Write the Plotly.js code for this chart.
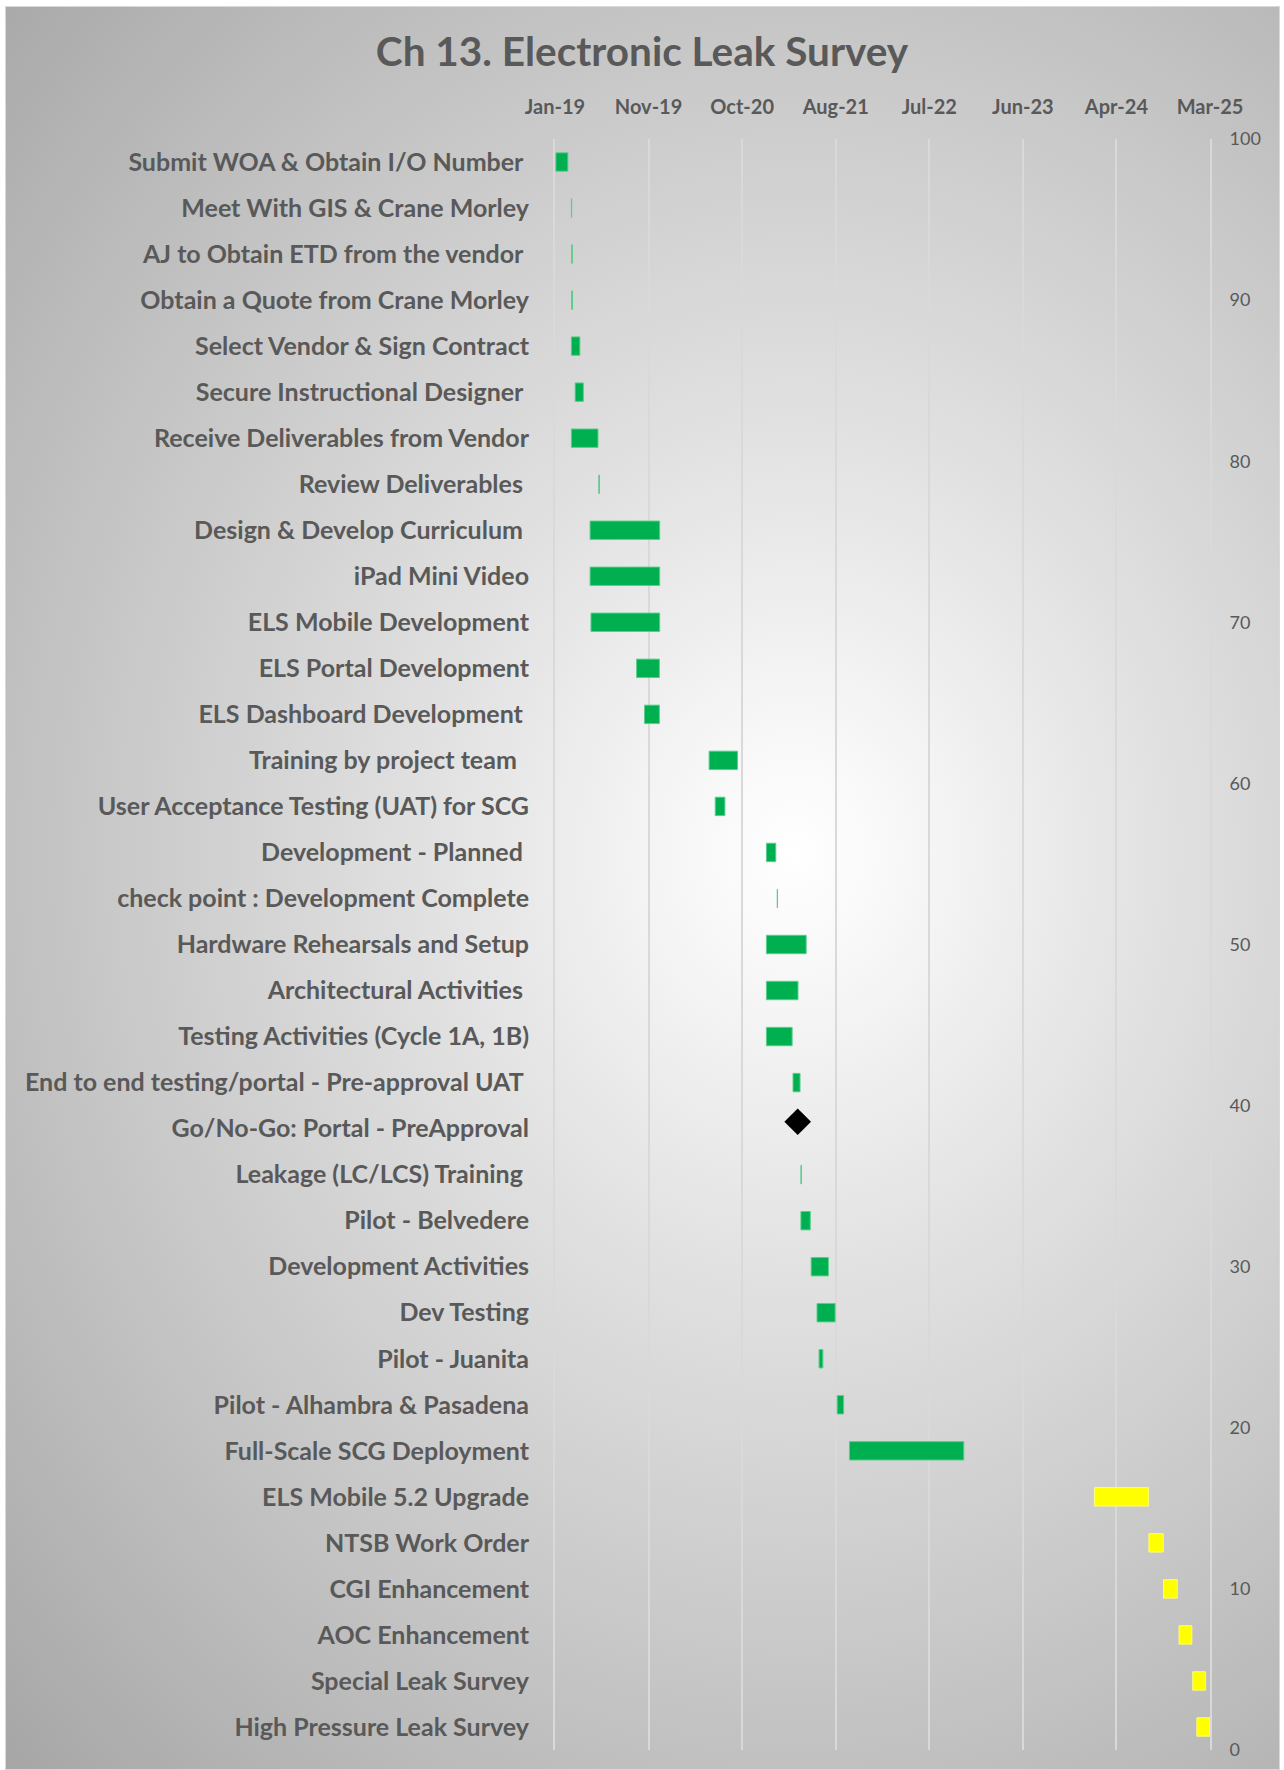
<!DOCTYPE html>
<html>
<head>
<meta charset="utf-8">
<script src="https://cdn.plot.ly/plotly-3.0.1.min.js"></script>
<style>
html,body{margin:0;padding:0;background:#ffffff;}
#wrap{position:relative;width:1284px;height:1770px;overflow:hidden;}
#bg{position:absolute;left:5px;top:6px;width:1275px;height:1764px;box-sizing:border-box;border:1px solid #d9d9d9;
background:radial-gradient(ellipse farthest-corner at 62% 48%, #ffffff 0%, #f7f7f7 10%, #e2e2e2 32%, #c8c8c8 62%, #a6a6a6 100%);}
#chart{position:absolute;left:0;top:0;width:1284px;height:1770px;}
</style>
</head>
<body>
<div id="wrap"><div id="bg"></div><div id="chart"></div></div>
<script>
const tasks = [
  'Submit WOA & Obtain I/O Number\u00a0',
  'Meet With GIS & Crane Morley',
  'AJ to Obtain ETD from the vendor\u00a0',
  'Obtain a Quote from Crane Morley',
  'Select Vendor & Sign Contract',
  'Secure Instructional Designer\u00a0',
  'Receive Deliverables from Vendor',
  'Review Deliverables\u00a0',
  'Design & Develop Curriculum\u00a0',
  'iPad Mini Video',
  'ELS Mobile Development',
  'ELS Portal Development',
  'ELS Dashboard Development\u00a0',
  'Training by project team\u00a0\u00a0',
  'User Acceptance Testing (UAT) for SCG',
  'Development - Planned\u00a0',
  'check point : Development Complete',
  'Hardware Rehearsals and Setup',
  'Architectural Activities\u00a0',
  'Testing Activities (Cycle 1A, 1B)',
  'End to end testing/portal - Pre-approval UAT\u00a0',
  'Go/No-Go: Portal - PreApproval',
  'Leakage (LC/LCS) Training\u00a0',
  'Pilot - Belvedere',
  'Development Activities',
  'Dev Testing',
  'Pilot - Juanita',
  'Pilot - Alhambra & Pasadena',
  'Full-Scale SCG Deployment',
  'ELS Mobile 5.2 Upgrade',
  'NTSB Work Order',
  'CGI Enhancement',
  'AOC Enhancement',
  'Special Leak Survey',
  'High Pressure Leak Survey'
];
const startDates = [
  '2019-01-16','2019-03-10','2019-03-11','2019-03-11','2019-03-10','2019-03-23','2019-03-10','2019-06-12',
  '2019-05-13','2019-05-13','2019-05-16','2019-10-19','2019-11-15','2020-06-23','2020-07-14','2021-01-05',
  '2021-02-11','2021-01-05','2021-01-05','2021-01-05','2021-04-06',null,'2021-05-03','2021-05-03',
  '2021-06-07','2021-06-27','2021-07-04','2021-09-04','2021-10-16','2024-02-01','2024-08-05','2024-09-24',
  '2024-11-16','2025-01-02','2025-01-16'
];
const durationDays = [
  41,1,2,3,29,28,91,2,
  238,238,235,78,51,97,33,32,
  1,136,108,88,24,null,2,32,
  59,62,13,22,391,185,49,47,
  44,44,45
];
const taskStatus = [
  'complete','complete','complete','complete','complete','complete','complete','complete',
  'complete','complete','complete','complete','complete','complete','complete','complete',
  'complete','complete','complete','complete','complete','milestone','complete','complete',
  'complete','complete','complete','complete','complete','planned','planned','planned',
  'planned','planned','planned'
];
const milestoneDates = ['2021-04-22'];
const milestoneLevels = [39];
const tickDates = ['2019-01-13','2019-11-29','2020-10-14','2021-08-30','2022-07-16','2023-06-01','2024-04-16','2025-03-02'];
const tickLabels = ['Jan-19','Nov-19','Oct-20','Aug-21','Jul-22','Jun-23','Apr-24','Mar-25'];

const DAY = 86400000;
const colors = {complete:'#00B050', planned:'#FFFF00'};
const edge = {complete:'rgba(90,205,140,0.95)', planned:'rgba(255,255,120,0.95)'};

function barTrace(st){
  const idx = tasks.map((t,i)=>i).filter(i=>taskStatus[i]===st && startDates[i]!==null);
  return {
    type:'bar', orientation:'h',
    y: idx.map(i=>tasks[i]),
    base: idx.map(i=>startDates[i]),
    x: idx.map(i=>durationDays[i]*DAY),
    width:0.4,
    marker:{color:colors[st], line:{color:edge[st], width:1}},
    hoverinfo:'skip', showlegend:false, xaxis:'x', yaxis:'y'
  };
}

const traces = [
  barTrace('complete'),
  barTrace('planned'),
  {
    type:'scatter', mode:'markers',
    x: milestoneDates, y: milestoneLevels,
    xaxis:'x', yaxis:'y2',
    marker:{symbol:'diamond', size:20.5, color:'#000000', line:{width:0}},
    hoverinfo:'skip', showlegend:false
  }
];

const grey = '#595959';
const layout = {
  width:1284, height:1770,
  paper_bgcolor:'rgba(0,0,0,0)', plot_bgcolor:'rgba(0,0,0,0)',
  margin:{l:555, r:74, t:139, b:20, pad:0},
  barmode:'overlay',
  showlegend:false,
  title:{
    text:'Ch 13. Electronic Leak Survey',
    font:{family:'Lato', size:40.5, color:grey, weight:700},
    x:0.5, xref:'container', xanchor:'center',
    y:1-52/1770, yref:'container', yanchor:'middle'
  },
  xaxis:{
    type:'date', side:'top',
    range:[tickDates[0], tickDates[tickDates.length-1]],
    tickmode:'array', tickvals:tickDates, ticktext:tickLabels,
    showgrid:true, gridcolor:'#d9d9d9', gridwidth:2,
    zeroline:false, showline:false, ticks:'',
    ticklabelstandoff:20,
    tickfont:{family:'Lato', size:20, color:grey, weight:700}
  },
  yaxis:{
    type:'category', categoryorder:'array', categoryarray:tasks,
    range:[tasks.length-0.5, -0.5],
    showgrid:false, zeroline:false, ticks:'',
    showline:true, linecolor:'#d9d9d9', linewidth:2,
    ticklabelstandoff:19,
    tickfont:{family:'Lato', size:25, color:grey, weight:700}
  },
  yaxis2:{
    overlaying:'y', side:'right', range:[0,100],
    tickmode:'linear', tick0:0, dtick:10,
    showgrid:false, zeroline:false, ticks:'',
    showline:true, linecolor:'#d9d9d9', linewidth:2,
    ticklabelstandoff:14,
    tickfont:{family:'Lato', size:18, color:grey}
  }
};

Plotly.newPlot('chart', traces, layout, {displayModeBar:false, staticPlot:true});
</script>
</body>
</html>
